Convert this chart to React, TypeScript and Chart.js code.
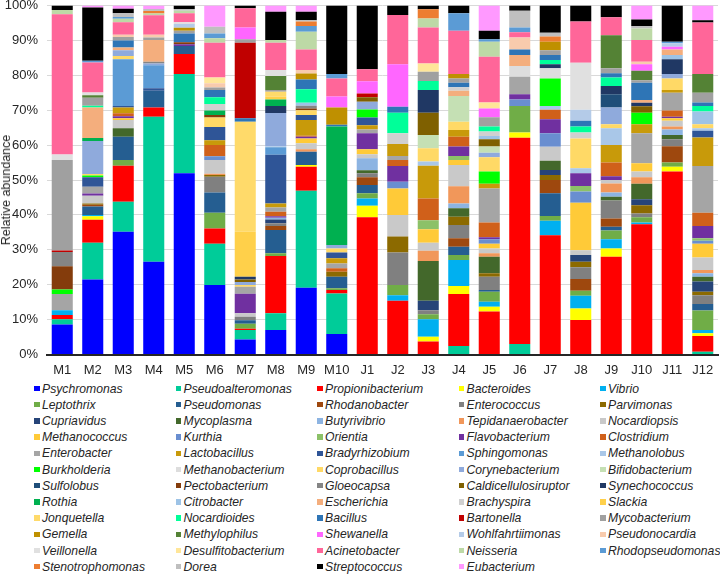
import React, { useEffect, useRef } from "react";
import { Chart, registerables } from "chart.js";

Chart.register(...registerables);

const FONT = '"Liberation Sans", Arial, sans-serif';

const samples = ["M1", "M2", "M3", "M4", "M5", "M6", "M7", "M8", "M9", "M10", "J1", "J2", "J3", "J4", "J5", "J6", "J7", "J8", "J9", "J10", "J11", "J12"];

const genera = [
  "Psychromonas", "Pseudoalteromonas", "Propionibacterium", "Bacteroides", "Vibrio",
  "Leptothrix", "Pseudomonas", "Rhodanobacter", "Enterococcus", "Parvimonas",
  "Cupriavidus", "Mycoplasma", "Butyrivibrio", "Tepidanaerobacter", "Nocardiopsis",
  "Methanococcus", "Kurthia", "Orientia", "Flavobacterium", "Clostridium",
  "Enterobacter", "Lactobacillus", "Bradyrhizobium", "Sphingomonas", "Methanolobus",
  "Burkholderia", "Methanobacterium", "Coprobacillus", "Corynebacterium", "Bifidobacterium",
  "Sulfolobus", "Pectobacterium", "Gloeocapsa", "Caldicellulosiruptor", "Synechococcus",
  "Rothia", "Citrobacter", "Escherichia", "Brachyspira", "Slackia",
  "Jonquetella", "Nocardioides", "Bacillus", "Bartonella", "Mycobacterium",
  "Gemella", "Methylophilus", "Shewanella", "Wohlfahrtiimonas", "Pseudonocardia",
  "Veillonella", "Desulfitobacterium", "Acinetobacter", "Neisseria", "Rhodopseudomonas",
  "Stenotrophomonas", "Dorea", "Streptococcus", "Eubacterium",
];

const colors = [
  "#0000FF", "#00CC99", "#FF0000", "#FFFF00", "#00B0F0",
  "#70AD47", "#255E91", "#9E480E", "#808080", "#8C6A00",
  "#264478", "#43682B", "#8DB4E2", "#F1975A", "#C9C9C9",
  "#FFCA38", "#698ED0", "#8CC168", "#7030A0", "#D0601A",
  "#A5A5A5", "#C89A0A", "#2F5597", "#5B9BD5", "#A9C7E8",
  "#00FF00", "#DDDDDD", "#FFD966", "#8FAADC", "#C5E0B4",
  "#1F4E79", "#843C0C", "#858585", "#7F6000", "#203864",
  "#00B050", "#9DC3E6", "#F4AE7D", "#D0D0D0", "#FFD04A",
  "#FFDA6A", "#00FF99", "#2E75B6", "#C00000", "#A0A0A0",
  "#BF9000", "#548235", "#FF66FF", "#B4CBE8", "#F8CBAD",
  "#E0E0E0", "#FFE699", "#FF6699", "#BDD9A6", "#5B9BD5",
  "#ED7D31", "#BFBFBF", "#000000", "#FF99FF",
];

type Part = [string, number];

const M1: Part[] = [["Psychromonas", 8.6], ["Pseudoalteromonas", 1.5], ["Propionibacterium", 1.2], ["Vibrio", 1.4], ["Enterobacter", 4.6], ["Burkholderia", 1.3], ["Pectobacterium", 6.7], ["Gloeocapsa", 4.1], ["Bartonella", 0.4], ["Mycobacterium", 25.9], ["Veillonella", 1.6], ["Acinetobacter", 40.2], ["Neisseria", 1.2], ["Streptococcus", 1.3]];
const M2: Part[] = [["Psychromonas", 21.5], ["Pseudoalteromonas", 10.5], ["Propionibacterium", 6.6], ["Bacteroides", 1.0], ["Vibrio", 0.4], ["Pseudomonas", 2.4], ["Rhodanobacter", 0.5], ["Parvimonas", 0.4], ["Nocardiopsis", 2.2], ["Flavobacterium", 0.6], ["Enterobacter", 2.0], ["Bradyrhizobium", 2.7], ["Burkholderia", 0.5], ["Coprobacillus", 0.4], ["Corynebacterium", 9.5], ["Rothia", 0.8], ["Escherichia", 8.8], ["Nocardioides", 0.5], ["Mycobacterium", 2.3], ["Methylophilus", 0.7], ["Veillonella", 0.8], ["Acinetobacter", 8.6], ["Rhodopseudomonas", 0.5], ["Streptococcus", 15.2], ["Eubacterium", 0.6]];
const M3: Part[] = [["Psychromonas", 35.2], ["Pseudoalteromonas", 8.6], ["Propionibacterium", 10.3], ["Leptothrix", 1.6], ["Pseudomonas", 6.7], ["Mycoplasma", 2.4], ["Nocardiopsis", 2.4], ["Methanococcus", 0.5], ["Flavobacterium", 0.6], ["Clostridium", 0.8], ["Lactobacillus", 1.7], ["Bradyrhizobium", 0.4], ["Sphingomonas", 13.4], ["Coprobacillus", 0.9], ["Corynebacterium", 1.7], ["Escherichia", 0.8], ["Bacillus", 2.0], ["Mycobacterium", 1.0], ["Pseudonocardia", 0.6], ["Acinetobacter", 3.6], ["Neisseria", 1.0], ["Rhodopseudomonas", 0.5], ["Dorea", 1.1], ["Streptococcus", 1.3], ["Eubacterium", 0.9]];
const M4: Part[] = [["Psychromonas", 26.6], ["Pseudoalteromonas", 41.5], ["Propionibacterium", 2.7], ["Pseudomonas", 4.8], ["Bradyrhizobium", 0.7], ["Sphingomonas", 6.6], ["Corynebacterium", 0.5], ["Gloeocapsa", 0.5], ["Escherichia", 6.2], ["Mycobacterium", 0.7], ["Pseudonocardia", 0.8], ["Acinetobacter", 5.6], ["Neisseria", 0.5], ["Stenotrophomonas", 0.7], ["Dorea", 0.6], ["Eubacterium", 1.0]];
const M5: Part[] = [["Psychromonas", 51.9], ["Pseudoalteromonas", 28.5], ["Propionibacterium", 5.7], ["Pseudomonas", 2.3], ["Flavobacterium", 0.5], ["Pectobacterium", 0.6], ["Bacillus", 2.5], ["Mycobacterium", 0.8], ["Gemella", 0.8], ["Wohlfahrtiimonas", 1.1], ["Veillonella", 0.5], ["Acinetobacter", 2.6], ["Neisseria", 0.7], ["Dorea", 0.5], ["Streptococcus", 1.0]];
const M6: Part[] = [["Psychromonas", 19.9], ["Pseudoalteromonas", 11.8], ["Propionibacterium", 4.4], ["Leptothrix", 4.5], ["Pseudomonas", 5.8], ["Enterococcus", 4.5], ["Parvimonas", 0.5], ["Tepidanaerobacter", 0.4], ["Nocardiopsis", 3.9], ["Kurthia", 1.1], ["Clostridium", 3.2], ["Lactobacillus", 1.4], ["Bradyrhizobium", 3.8], ["Coprobacillus", 2.7], ["Pectobacterium", 0.7], ["Rothia", 1.3], ["Brachyspira", 1.9], ["Nocardioides", 1.9], ["Bacillus", 2.1], ["Mycobacterium", 0.7], ["Pseudonocardia", 1.2], ["Desulfitobacterium", 1.7], ["Acinetobacter", 9.9], ["Neisseria", 1.3], ["Rhodopseudomonas", 1.4], ["Dorea", 1.9], ["Eubacterium", 6.1]];
const M7: Part[] = [["Psychromonas", 4.3], ["Pseudoalteromonas", 2.7], ["Propionibacterium", 0.4], ["Leptothrix", 1.4], ["Pseudomonas", 1.0], ["Enterococcus", 1.0], ["Nocardiopsis", 1.0], ["Flavobacterium", 5.6], ["Enterobacter", 2.0], ["Coprobacillus", 0.5], ["Corynebacterium", 0.9], ["Caldicellulosiruptor", 0.7], ["Synechococcus", 0.8], ["Slackia", 12.9], ["Jonquetella", 31.5], ["Bacillus", 1.0], ["Bartonella", 21.6], ["Mycobacterium", 1.0], ["Shewanella", 3.4], ["Acinetobacter", 5.5], ["Streptococcus", 0.8]];
const M8: Part[] = [["Psychromonas", 7.0], ["Pseudoalteromonas", 4.8], ["Propionibacterium", 16.4], ["Leptothrix", 0.8], ["Pseudomonas", 6.7], ["Rhodanobacter", 1.1], ["Enterococcus", 0.8], ["Cupriavidus", 1.1], ["Butyrivibrio", 0.5], ["Flavobacterium", 0.4], ["Clostridium", 1.3], ["Enterobacter", 1.2], ["Lactobacillus", 1.2], ["Bradyrhizobium", 13.9], ["Sphingomonas", 2.2], ["Methanolobus", 0.3], ["Corynebacterium", 9.5], ["Synechococcus", 2.0], ["Rothia", 1.9], ["Slackia", 0.8], ["Jonquetella", 1.4], ["Mycobacterium", 0.5], ["Methylophilus", 4.0], ["Veillonella", 1.7], ["Acinetobacter", 7.8], ["Neisseria", 0.8], ["Streptococcus", 8.1], ["Eubacterium", 1.8]];
const M9: Part[] = [["Psychromonas", 19.1], ["Pseudoalteromonas", 27.8], ["Propionibacterium", 6.9], ["Bacteroides", 0.5], ["Pseudomonas", 3.8], ["Tepidanaerobacter", 0.7], ["Nocardiopsis", 1.7], ["Methanococcus", 1.4], ["Flavobacterium", 0.5], ["Clostridium", 0.3], ["Lactobacillus", 4.5], ["Bradyrhizobium", 1.4], ["Coprobacillus", 1.4], ["Pectobacterium", 0.5], ["Gloeocapsa", 0.8], ["Citrobacter", 0.8], ["Nocardioides", 3.9], ["Bacillus", 2.8], ["Gemella", 1.7], ["Pseudonocardia", 1.0], ["Acinetobacter", 5.9], ["Neisseria", 5.1], ["Rhodopseudomonas", 1.6], ["Stenotrophomonas", 1.3], ["Dorea", 0.4], ["Streptococcus", 2.4], ["Eubacterium", 1.8]];
const M10: Part[] = [["Psychromonas", 5.9], ["Pseudoalteromonas", 11.6], ["Propionibacterium", 1.0], ["Leptothrix", 0.5], ["Pseudomonas", 3.3], ["Parvimonas", 1.4], ["Clostridium", 1.0], ["Enterobacter", 1.4], ["Lactobacillus", 1.5], ["Bradyrhizobium", 1.6], ["Coprobacillus", 1.2], ["Corynebacterium", 1.0], ["Rothia", 33.9], ["Bacillus", 0.5], ["Gemella", 5.0], ["Shewanella", 3.1], ["Acinetobacter", 5.2], ["Rhodopseudomonas", 1.3], ["Streptococcus", 19.6]];
const J1: Part[] = [["Propionibacterium", 39.3], ["Bacteroides", 3.3], ["Vibrio", 2.1], ["Leptothrix", 1.5], ["Pseudomonas", 2.4], ["Rhodanobacter", 2.2], ["Enterococcus", 1.1], ["Mycoplasma", 0.9], ["Butyrivibrio", 3.4], ["Nocardiopsis", 1.2], ["Methanococcus", 1.4], ["Flavobacterium", 4.6], ["Enterobacter", 1.1], ["Lactobacillus", 1.2], ["Bradyrhizobium", 2.2], ["Burkholderia", 2.3], ["Corynebacterium", 2.2], ["Caldicellulosiruptor", 1.3], ["Bartonella", 1.1], ["Shewanella", 3.5], ["Acinetobacter", 3.4], ["Streptococcus", 18.3]];
const J2: Part[] = [["Propionibacterium", 15.4], ["Vibrio", 1.6], ["Leptothrix", 2.9], ["Enterococcus", 9.3], ["Parvimonas", 4.6], ["Nocardiopsis", 6.2], ["Methanococcus", 7.6], ["Kurthia", 1.9], ["Flavobacterium", 4.5], ["Clostridium", 1.7], ["Enterobacter", 1.2], ["Lactobacillus", 3.4], ["Brachyspira", 3.1], ["Nocardioides", 5.9], ["Bacillus", 1.7], ["Shewanella", 12.2], ["Acinetobacter", 14.1], ["Streptococcus", 2.7]];
const J3: Part[] = [["Propionibacterium", 3.7], ["Bacteroides", 1.4], ["Vibrio", 5.0], ["Leptothrix", 1.4], ["Enterococcus", 1.2], ["Cupriavidus", 2.7], ["Mycoplasma", 11.4], ["Tepidanaerobacter", 2.9], ["Nocardiopsis", 2.3], ["Methanococcus", 3.9], ["Orientia", 2.6], ["Clostridium", 6.2], ["Lactobacillus", 9.4], ["Methanolobus", 1.2], ["Coprobacillus", 3.8], ["Bifidobacterium", 3.8], ["Caldicellulosiruptor", 6.4], ["Synechococcus", 6.5], ["Nocardioides", 2.6], ["Mycobacterium", 2.6], ["Desulfitobacterium", 2.4], ["Acinetobacter", 10.3], ["Neisseria", 2.6], ["Stenotrophomonas", 2.6], ["Streptococcus", 1.1]];
const J4: Part[] = [["Pseudoalteromonas", 2.4], ["Propionibacterium", 14.9], ["Bacteroides", 2.3], ["Vibrio", 7.5], ["Leptothrix", 1.4], ["Pseudomonas", 2.4], ["Rhodanobacter", 2.4], ["Enterococcus", 3.8], ["Parvimonas", 2.4], ["Mycoplasma", 2.4], ["Butyrivibrio", 1.4], ["Tepidanaerobacter", 4.9], ["Nocardiopsis", 6.1], ["Methanococcus", 1.4], ["Orientia", 1.2], ["Flavobacterium", 2.7], ["Clostridium", 2.8], ["Lactobacillus", 1.9], ["Coprobacillus", 2.4], ["Bifidobacterium", 7.4], ["Escherichia", 1.5], ["Brachyspira", 1.0], ["Bacillus", 1.3], ["Mycobacterium", 1.2], ["Gemella", 1.3], ["Acinetobacter", 12.4], ["Rhodopseudomonas", 5.0], ["Streptococcus", 2.2]];
const J5: Part[] = [["Propionibacterium", 12.3], ["Bacteroides", 1.4], ["Vibrio", 1.4], ["Leptothrix", 2.9], ["Pseudomonas", 0.5], ["Enterococcus", 3.8], ["Parvimonas", 1.0], ["Mycoplasma", 4.7], ["Tepidanaerobacter", 1.0], ["Nocardiopsis", 1.4], ["Methanococcus", 1.3], ["Kurthia", 1.3], ["Flavobacterium", 0.6], ["Clostridium", 4.2], ["Enterobacter", 9.8], ["Lactobacillus", 1.3], ["Burkholderia", 3.5], ["Coprobacillus", 4.1], ["Corynebacterium", 1.3], ["Bifidobacterium", 1.8], ["Caldicellulosiruptor", 2.1], ["Citrobacter", 0.9], ["Brachyspira", 1.3], ["Nocardioides", 1.4], ["Mycobacterium", 2.7], ["Shewanella", 2.5], ["Desulfitobacterium", 1.7], ["Acinetobacter", 13.1], ["Neisseria", 4.3], ["Rhodopseudomonas", 0.7], ["Streptococcus", 2.5], ["Eubacterium", 7.2]];
const J6: Part[] = [["Pseudoalteromonas", 3.0], ["Propionibacterium", 59.1], ["Bacteroides", 1.5], ["Leptothrix", 7.6], ["Kurthia", 1.9], ["Flavobacterium", 1.5], ["Enterobacter", 5.0], ["Methanobacterium", 3.1], ["Escherichia", 3.1], ["Bacillus", 1.6], ["Pseudonocardia", 3.4], ["Acinetobacter", 1.5], ["Rhodopseudomonas", 1.4], ["Dorea", 4.8], ["Streptococcus", 1.5]];
const J7: Part[] = [["Propionibacterium", 34.2], ["Vibrio", 4.1], ["Leptothrix", 1.4], ["Pseudomonas", 6.5], ["Rhodanobacter", 3.8], ["Parvimonas", 1.4], ["Cupriavidus", 1.5], ["Mycoplasma", 2.6], ["Nocardiopsis", 4.0], ["Kurthia", 3.9], ["Flavobacterium", 4.0], ["Clostridium", 2.7], ["Methanolobus", 1.1], ["Burkholderia", 7.9], ["Methanobacterium", 2.9], ["Synechococcus", 1.2], ["Nocardioides", 1.2], ["Bacillus", 1.4], ["Mycobacterium", 1.4], ["Gemella", 2.4], ["Stenotrophomonas", 1.5], ["Dorea", 1.1], ["Streptococcus", 7.8]];
const J8: Part[] = [["Propionibacterium", 9.9], ["Bacteroides", 3.3], ["Vibrio", 3.6], ["Leptothrix", 1.5], ["Rhodanobacter", 3.3], ["Enterococcus", 3.4], ["Parvimonas", 1.6], ["Cupriavidus", 1.9], ["Nocardiopsis", 1.4], ["Methanococcus", 13.6], ["Kurthia", 3.2], ["Orientia", 1.6], ["Flavobacterium", 3.6], ["Methanolobus", 1.5], ["Coprobacillus", 8.5], ["Brachyspira", 1.7], ["Nocardioides", 1.7], ["Bacillus", 1.7], ["Wohlfahrtiimonas", 3.1], ["Veillonella", 13.5], ["Acinetobacter", 11.8], ["Streptococcus", 4.6]];
const J9: Part[] = [["Propionibacterium", 28.0], ["Bacteroides", 2.4], ["Vibrio", 2.6], ["Leptothrix", 2.5], ["Pseudomonas", 1.1], ["Rhodanobacter", 2.4], ["Enterococcus", 5.1], ["Mycoplasma", 1.1], ["Butyrivibrio", 1.2], ["Tepidanaerobacter", 2.6], ["Nocardiopsis", 1.0], ["Flavobacterium", 1.1], ["Clostridium", 3.9], ["Lactobacillus", 5.0], ["Methanolobus", 4.8], ["Coprobacillus", 1.2], ["Corynebacterium", 4.8], ["Sulfolobus", 3.8], ["Synechococcus", 2.3], ["Nocardioides", 2.5], ["Bacillus", 1.2], ["Mycobacterium", 1.4], ["Methylophilus", 9.5], ["Acinetobacter", 5.1], ["Streptococcus", 3.4]];
const J10: Part[] = [["Propionibacterium", 37.3], ["Vibrio", 0.5], ["Leptothrix", 1.5], ["Enterococcus", 1.1], ["Parvimonas", 2.4], ["Cupriavidus", 1.7], ["Mycoplasma", 4.4], ["Tepidanaerobacter", 1.9], ["Nocardiopsis", 1.6], ["Methanococcus", 2.4], ["Enterobacter", 8.6], ["Lactobacillus", 2.6], ["Burkholderia", 3.3], ["Caldicellulosiruptor", 1.8], ["Synechococcus", 1.0], ["Escherichia", 0.8], ["Bacillus", 5.0], ["Mycobacterium", 0.7], ["Methylophilus", 2.7], ["Shewanella", 1.9], ["Pseudonocardia", 0.7], ["Acinetobacter", 6.2], ["Neisseria", 3.3], ["Dorea", 0.7], ["Streptococcus", 1.9], ["Eubacterium", 4.0]];
const J11: Part[] = [["Propionibacterium", 52.4], ["Bacteroides", 1.4], ["Leptothrix", 1.2], ["Rhodanobacter", 4.7], ["Enterococcus", 2.0], ["Mycoplasma", 1.2], ["Butyrivibrio", 1.6], ["Tepidanaerobacter", 0.8], ["Nocardiopsis", 1.7], ["Methanococcus", 0.7], ["Flavobacterium", 0.4], ["Clostridium", 1.8], ["Enterobacter", 5.1], ["Lactobacillus", 0.8], ["Coprobacillus", 3.3], ["Corynebacterium", 1.3], ["Synechococcus", 4.2], ["Citrobacter", 1.2], ["Escherichia", 1.6], ["Shewanella", 0.8], ["Wohlfahrtiimonas", 1.0], ["Rhodopseudomonas", 0.4], ["Streptococcus", 10.4]];
const J12: Part[] = [["Pseudoalteromonas", 0.8], ["Propionibacterium", 4.5], ["Bacteroides", 0.8], ["Vibrio", 0.9], ["Leptothrix", 5.6], ["Pseudomonas", 1.9], ["Enterococcus", 2.5], ["Parvimonas", 1.0], ["Cupriavidus", 2.9], ["Mycoplasma", 1.4], ["Butyrivibrio", 1.0], ["Tepidanaerobacter", 0.9], ["Nocardiopsis", 3.6], ["Methanococcus", 3.9], ["Kurthia", 0.9], ["Orientia", 0.7], ["Flavobacterium", 3.5], ["Clostridium", 3.8], ["Enterobacter", 13.4], ["Lactobacillus", 8.2], ["Bradyrhizobium", 1.9], ["Methanolobus", 0.7], ["Coprobacillus", 1.2], ["Citrobacter", 3.6], ["Nocardioides", 1.6], ["Bacillus", 1.0], ["Mycobacterium", 2.8], ["Methylophilus", 5.4], ["Acinetobacter", 14.7], ["Streptococcus", 0.7], ["Eubacterium", 4.2]];

const sampleParts: Part[][] = [M1, M2, M3, M4, M5, M6, M7, M8, M9, M10, J1, J2, J3, J4, J5, J6, J7, J8, J9, J10, J11, J12];

export default function App() {
  const canvasRef = useRef<HTMLCanvasElement>(null);

  useEffect(() => {
    document.body.style.margin = "0";
    const datasets = genera.map((g, i) => ({
      label: g,
      data: sampleParts.map((parts) => {
        const hit = parts.find((p) => p[0] === g);
        return hit ? hit[1] : 0;
      }),
      backgroundColor: colors[i],
      borderWidth: 0,
      barPercentage: 0.69,
      categoryPercentage: 1,
    }));
    const chart = new Chart(canvasRef.current as HTMLCanvasElement, {
      type: "bar",
      data: { labels: samples, datasets },
      options: {
        animation: false,
        responsive: false,
        maintainAspectRatio: false,
        layout: { padding: { top: 5.5, right: 2, left: 0, bottom: 0 } },
        plugins: { legend: { display: false }, tooltip: { enabled: false } },
        scales: {
          x: {
            stacked: true,
            grid: { display: false, drawTicks: false },
            border: { color: "#262626", width: 2 },
            ticks: { color: "#262626", font: { size: 13, family: FONT }, padding: 8, maxRotation: 0, autoSkip: false },
            afterFit: (s: any) => {
              s.height = 23.5;
              s.paddingLeft = 0;
              s.paddingRight = 0;
            },
          },
          y: {
            stacked: true,
            min: 0,
            max: 100,
            ticks: {
              stepSize: 10,
              color: "#262626",
              font: { size: 13, family: FONT },
              padding: 9,
              callback: (v: any) => v + "%",
            },
            grid: { color: "#D9D9D9", drawTicks: false },
            border: { display: false },
            afterFit: (s: any) => {
              s.width = 47;
              s.paddingTop = 0;
              s.paddingBottom = 0;
            },
          },
        },
      },
    });
    return () => chart.destroy();
  }, []);

  return (
    <div style={{ position: "relative", width: 720, height: 576, fontFamily: FONT, background: "#fff", overflow: "hidden" }}>
      <canvas ref={canvasRef} width={720} height={378} style={{ display: "block", width: 720, height: 378 }} />
      <div
        style={{
          position: "absolute",
          left: 6,
          top: 190,
          transform: "translate(-50%, -50%) rotate(-90deg)",
          whiteSpace: "nowrap",
          fontSize: 12.5,
          lineHeight: "14px",
          color: "#262626",
        }}
      >
        Relative abundance
      </div>
      {genera.map((g, i) => {
        const col = i % 5;
        const row = Math.floor(i / 5);
        return (
          <div
            key={g}
            style={{
              position: "absolute",
              left: 34 + col * 141.5,
              top: 380.5 + row * 16.2,
              height: 16,
              display: "flex",
              alignItems: "center",
              whiteSpace: "nowrap",
              fontSize: 12.2,
              fontStyle: "italic",
              color: "#262626",
            }}
          >
            <span style={{ display: "inline-block", width: 5.5, height: 5.5, background: colors[i], marginRight: 2.5 }} />
            <span>{g}</span>
          </div>
        );
      })}
    </div>
  );
}
